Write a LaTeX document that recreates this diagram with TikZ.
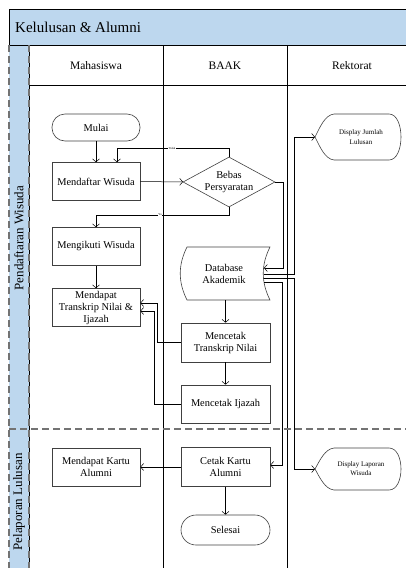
\documentclass[tikz,border=0pt]{standalone}
\usepackage{fontspec}
\setmainfont{Liberation Serif}
\usetikzlibrary{shapes.geometric,arrows.meta}

\definecolor{poolblue}{RGB}{189,215,238}
\definecolor{edgegray}{RGB}{64,64,64}

\tikzset{
  box/.style={draw=edgegray, line width=0.6pt, minimum width=88pt, minimum height=38pt,
    align=center, inner sep=1pt, font=\fontsize{10.4}{12}\selectfont},
  term/.style={box, rounded corners=13pt, minimum height=27pt},
  decision/.style={draw=edgegray, line width=0.6pt, diamond, minimum width=92pt,
    minimum height=50pt, inner sep=0pt},
  shapeline/.style={draw=edgegray, line width=0.6pt},
  txt/.style={align=center, inner sep=0pt, font=\fontsize{10.4}{12}\selectfont},
  smalltxt/.style={align=center, inner sep=0pt, font=\fontsize{7}{9.5}\selectfont},
  arr/.style={-{Straight Barb[length=3pt,width=7pt]}, line width=0.5pt},
  lane/.style={line width=0.8pt},
  phase/.style={draw=black!55, line width=1.2pt, dash pattern=on 7pt off 4pt},
  tiny/.style={font=\fontsize{3}{3}\selectfont, fill=white, inner sep=0.4pt},
}

\begin{document}
\begin{tikzpicture}[x=1pt,y=-1pt]
\useasboundingbox (0,0) rectangle (406,568);

% pool, lanes and phases
\fill[poolblue] (9,9) rectangle (407,45);
\fill[poolblue] (9,45) rectangle (29,569);
\draw[lane] (407,9) -- (9,9) -- (9,45);
\draw[lane] (9,45) -- (407,45);
\draw[lane] (29,85) -- (407,85);
\draw[lane] (29,45) -- (29,569);
\draw[lane] (163,45) -- (163,569);
\draw[lane] (287,45) -- (287,569);
\draw[phase] (9,45) -- (9,569);
\draw[phase] (29,45) -- (29,569);
\draw[phase] (9,429) -- (407,429);

\node[anchor=west, inner sep=0pt, font=\fontsize{15}{18}\selectfont] (title) at (15,27) {Kelulusan \& Alumni};
\node[font=\fontsize{11.5}{13}\selectfont] (mhs) at (96,66) {Mahasiswa};
\node[font=\fontsize{11.5}{13}\selectfont] (baak) at (225,66) {BAAK};
\node[font=\fontsize{11.5}{13}\selectfont] (rektor) at (352,66) {Rektorat};
\node[rotate=90, font=\fontsize{13}{15}\selectfont] (ph1) at (19,238) {Pendaftaran Wisuda};
\node[rotate=90, font=\fontsize{13}{15}\selectfont] (ph2) at (19,502) {Pelaporan Lulusan};

% Mahasiswa
\node[term] (mulai) at (96,127.5) {Mulai};
\node[box] (daftar) at (96,181.5) {Mendaftar Wisuda};
\node[box] (ikut) at (96,246.5) {Mengikuti Wisuda};
\node[box] (dapattrans) at (96,307.5) {Mendapat\\Transkrip Nilai \&\\Ijazah};
\node[box] (dapatkartu) at (96,467) {Mendapat Kartu\\Alumni};

% BAAK
\node[decision] (bebas) at (229,182) {};
\node[txt] (bebastxt) at (229,182) {Bebas\\Persyaratan};
\draw[shapeline] (187,247) -- (270,247) .. controls (261,265) and (261,282) .. (270,300)
  -- (187,300) .. controls (178,282) and (178,265) .. (187,247) -- cycle;
\node[txt] (db) at (224,274) {Database\\Akademik};
\node[box, minimum width=89pt, minimum height=39pt] (cetaktrans) at (225.5,342.5) {Mencetak\\Transkrip Nilai};
\node[box, minimum width=89pt] (cetakijazah) at (225.5,404) {Mencetak Ijazah};
\node[box, minimum width=89pt, minimum height=39pt] (cetakkartu) at (225.5,467) {Cetak Kartu\\Alumni};
\node[term, minimum width=89pt, minimum height=30pt, rounded corners=15pt] (selesai) at (225.5,530) {Selesai};

% Rektorat
\draw[shapeline] (315,137) .. controls (320,127) and (325,115) .. (334,114) -- (389,114)
  .. controls (405,114) and (405,160) .. (389,160) -- (334,160)
  .. controls (325,159) and (320,147) .. (315,137) -- cycle;
\node[smalltxt] (dispjml) at (361,137) {Display Jumlah\\Lulusan};
\draw[shapeline] (315,469) .. controls (320,460) and (325,449) .. (334,448) -- (389,448)
  .. controls (405,448) and (405,490) .. (389,490) -- (334,490)
  .. controls (325,489) and (320,478) .. (315,469) -- cycle;
\node[smalltxt, font=\fontsize{7}{8.5}\selectfont] (displap) at (361,468.5) {Display Laporan\\Wisuda};

% connector ends and bends
\coordinate (tidak) at (117,148);
\coordinate (ya) at (96,215);
\coordinate (bebasturn) at (283,268);
\coordinate (dbin) at (264,268);
\coordinate (dbout1) at (263.5,274);
\coordinate (dbout2) at (263.5,278);
\coordinate (dbout3) at (264,282);
\coordinate (dbbottom) at (225.5,300);
\coordinate (upturn) at (294,137);
\coordinate (downturn) at (294,469);
\coordinate (kartuturn) at (282,465);
\coordinate (jmltip) at (315,137);
\coordinate (laptip) at (315,469);
\coordinate (transturn) at (157,303);
\coordinate (ijazahturn) at (154,311);

% flows
\draw[arr] (mulai) -- (daftar);
\draw[arr] (daftar) -- (bebas);
\draw[arr] (bebas.north) |- (tidak) -- (daftar.north -| tidak);
\draw[arr] (bebas.south) |- (ya) -- (ikut);
\draw[arr] (ikut) -- (dapattrans);
\draw[arr] (bebas.east) -| (bebasturn) -- (dbin);
\draw[arr] (dbout1) -| (upturn) -- (jmltip);
\draw[arr] (dbout2) -| (downturn) -- (laptip);
\draw[arr] (dbout3) -| (kartuturn) -- (cetakkartu.east |- kartuturn);
\draw[arr] (dbbottom) -- (cetaktrans);
\draw[arr] (cetaktrans) -- (cetakijazah);
\draw[arr] (cetaktrans.west) -| (transturn) -- (dapattrans.east |- transturn);
\draw[arr] (cetakijazah.west) -| (ijazahturn) -- (dapattrans.east |- ijazahturn);
\draw[arr] (cetakkartu) -- (dapatkartu);
\draw[arr] (cetakkartu) -- (selesai);

\node[tiny] (lbltidak) at (172,148) {Tidak};
\node[tiny] (lblya) at (160,215) {Ya};
\end{tikzpicture}
\end{document}
